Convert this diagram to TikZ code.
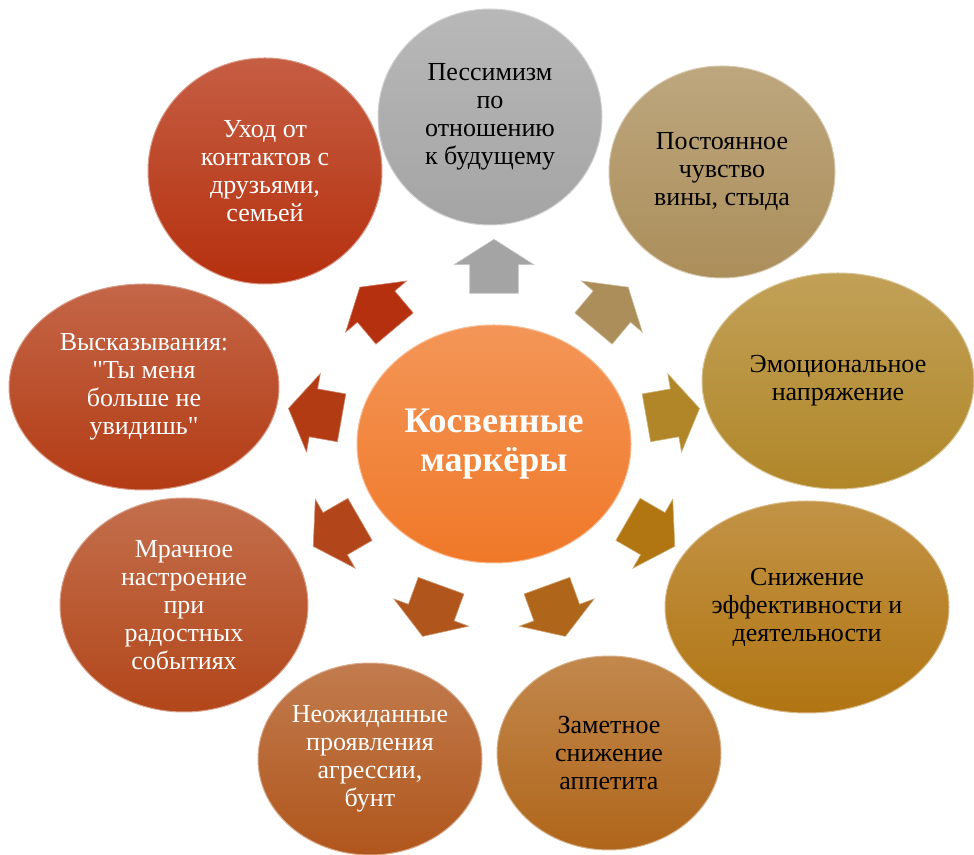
\documentclass[tikz,border=0pt]{standalone}
\usepackage{fontspec}
\setmainfont{Liberation Serif}
\usetikzlibrary{shapes.geometric,shapes.arrows,calc}

\definecolor{cmid}{HTML}{F07828}
\definecolor{cgray}{HTML}{A4A4A4}
\definecolor{ctan}{HTML}{AB8E5A}
\definecolor{cgold}{HTML}{B08628}
\definecolor{cbronze}{HTML}{B17512}
\definecolor{cochre}{HTML}{B0661A}
\definecolor{crust}{HTML}{B0561C}
\definecolor{cbrick}{HTML}{B2461A}
\definecolor{cred}{HTML}{B33B14}
\definecolor{ccrimson}{HTML}{B5300E}

% straight double quote, kept out of the TeX ligature mapping
\newcommand\sq{\XeTeXglyph\XeTeXcharglyph"22\relax}

\tikzset{
  bubble/.style={ellipse, inner sep=0pt, align=center,
    font=\fontsize{26}{28}\selectfont,
    top color=#1!78!white, bottom color=#1, draw=#1!50!white, line width=1pt},
  outarrow/.style={single arrow, inner xsep=0pt, inner ysep=24pt,
    minimum height=54pt, single arrow head extend=15.5pt,
    single arrow tip angle=115, fill=#1, draw=#1!60!white, line width=0.6pt}
}

\begin{document}
\begin{tikzpicture}[x=1pt, y=1pt]
    \useasboundingbox (0,0) rectangle (974,854);

    % Centre
    \node[bubble=cmid, minimum width=274pt, minimum height=238pt, text=white,
          font=\bfseries\fontsize{36}{39}\selectfont] (mid) at (494,410) {Косвенные\\маркёры};

    % Markers round the centre
    \node[bubble=cgray, minimum width=224pt, minimum height=216pt] (pess) at (490,737)
        {Пессимизм\\по\\отношению\\к будущему};
    \node[bubble=ctan, minimum width=226pt, minimum height=212pt] (guilt) at (722,682)
        {Постоянное\\чувство\\вины, стыда};
    \node[bubble=cgold, minimum width=272pt, minimum height=216pt] (tension) at (838,473)
        {Эмоциональное\\напряжение};
    \node[bubble=cbronze, minimum width=284pt, minimum height=212pt] (work) at (807,247)
        {Снижение\\эффективности и\\деятельности};
    \node[bubble=cochre, minimum width=224pt, minimum height=194pt] (food) at (609,101)
        {Заметное\\снижение\\аппетита};
    \node[bubble=crust, minimum width=224pt, minimum height=192pt, text=white] (riot) at (370,95)
        {Неожиданные\\проявления\\агрессии,\\бунт};
    \node[bubble=cbrick, minimum width=248pt, minimum height=214pt, text=white] (gloom) at (184,249)
        {Мрачное\\настроение\\при\\радостных\\событиях};
    \node[bubble=cred, minimum width=270pt, minimum height=206pt, text=white] (words) at (144,467)
        {Высказывания:\\\sq Ты меня\\больше не\\увидишь\sq};
    \node[bubble=ccrimson, minimum width=234pt, minimum height=226pt, text=white] (away) at (265,683)
        {Уход от\\контактов с\\друзьями,\\семьей};

    % Block arrows pointing outwards
    \foreach \a/\c [count=\i] in {90/cgray, 50/ctan, 10/cgold, -30/cbronze, -70/cochre,
                                  -110/crust, -150/cbrick, 170/cred, 130/ccrimson}
        \node[outarrow=\c, rotate=\a] (arr\i) at ($(mid)+(\a:174pt and 170pt)$) {};
\end{tikzpicture}
\end{document}
